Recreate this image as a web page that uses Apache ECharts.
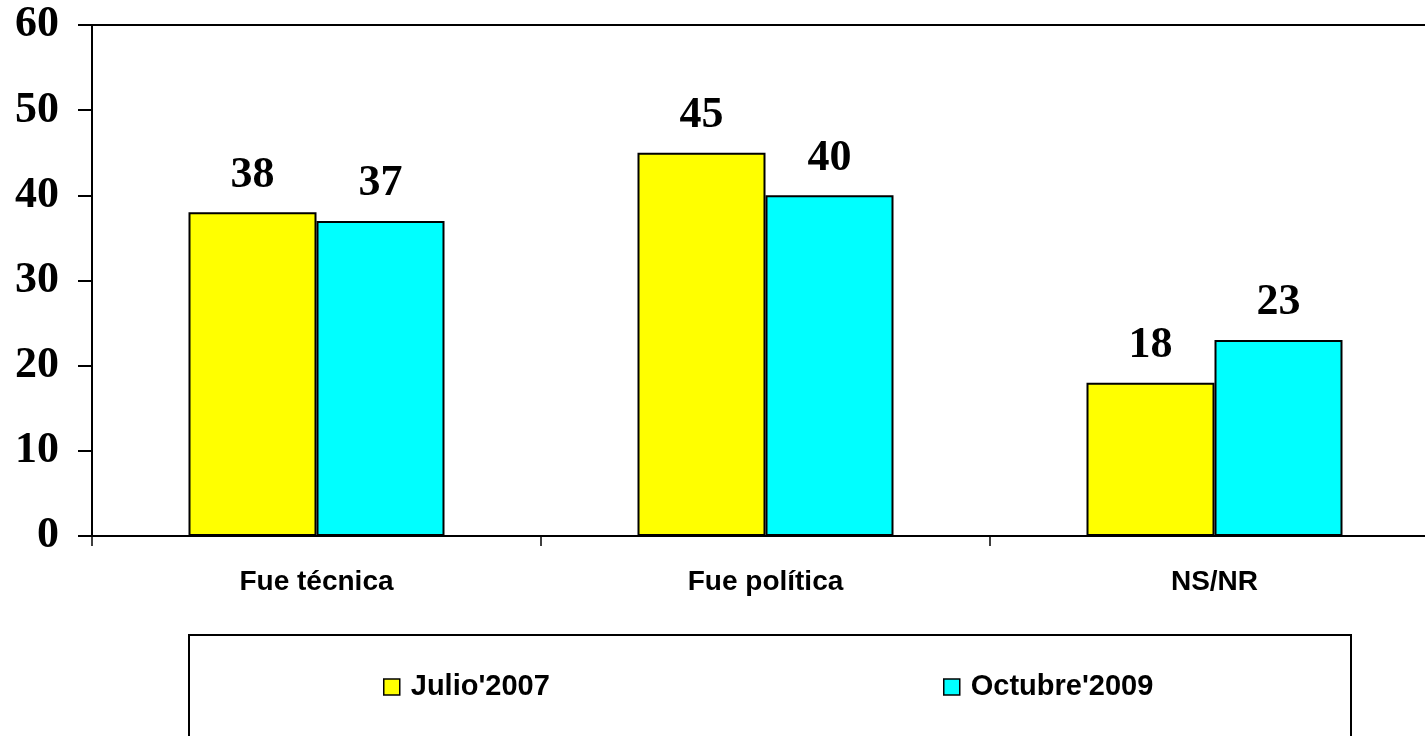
<!DOCTYPE html>
<html>
<head>
<meta charset="utf-8">
<script src="https://cdn.jsdelivr.net/npm/echarts@6/dist/echarts.min.js"></script>
<style>
html,body{margin:0;padding:0;background:#fff;}
#chart{width:1425px;height:736px;}
</style>
</head>
<body>
<div id="chart"></div>
<script>
const categories = ['Fue técnica', 'Fue política', 'NS/NR'];
const seriesNames = ["Julio'2007", "Octubre'2009"];
const julio2007 = [38, 45, 18];
const octubre2009 = [37, 40, 23];
const yTicks = { min: 0, max: 60, interval: 10 };

const SANS = "'Liberation Sans', Arial, sans-serif";
const SERIF = "'Liberation Serif', 'Times New Roman', serif";

const chart = echarts.init(document.getElementById('chart'));
const labelStyle = {
  show: true, position: 'top', distance: 15,
  fontFamily: SERIF, fontWeight: 'bold', fontSize: 44, color: '#000'
};
const legendText = { fontFamily: SANS, fontWeight: 'bold', fontSize: 29, color: '#000', lineHeight: 30, padding: [0, 0, 0, 6] };
chart.setOption({
  backgroundColor: '#fff',
  animation: false,
  grid: { left: 92, top: 25, right: -14, bottom: 200, containLabel: false, outerBoundsMode: 'none' },
  graphic: [{
    type: 'rect', left: 188, top: 634, z: 0,
    shape: { width: 1162, height: 130 },
    style: { fill: '#fff', stroke: '#000', lineWidth: 2 }
  }],
  legend: [
    {
      data: [seriesNames[0]], left: 383, top: 672, padding: 0,
      itemWidth: 16, itemHeight: 16, icon: 'rect',
      itemStyle: { borderColor: '#000', borderWidth: 1.5 },
      textStyle: legendText
    },
    {
      data: [seriesNames[1]], left: 943, top: 672, padding: 0,
      itemWidth: 16, itemHeight: 16, icon: 'rect',
      itemStyle: { borderColor: '#000', borderWidth: 1.5 },
      textStyle: legendText
    }
  ],
  xAxis: [
    {
      type: 'category', data: categories, position: 'bottom',
      axisLine: { lineStyle: { color: '#000', width: 2 } },
      axisTick: { show: true, length: 10, lineStyle: { color: '#000', width: 1.5 } },
      axisLabel: { margin: 32, fontFamily: SANS, fontWeight: 'bold', fontSize: 28, lineHeight: 28, color: '#000' },
      splitLine: { show: false }
    },
    {
      type: 'category', data: categories, position: 'top',
      axisLine: { show: true, lineStyle: { color: '#000', width: 2 } },
      axisTick: { show: false }, axisLabel: { show: false }, splitLine: { show: false }
    }
  ],
  yAxis: {
    type: 'value', min: yTicks.min, max: yTicks.max, interval: yTicks.interval,
    axisLine: { show: true, lineStyle: { color: '#000', width: 2 } },
    axisTick: { show: true, length: 14, lineStyle: { color: '#000', width: 2 } },
    axisLabel: { margin: 33, fontFamily: SERIF, fontWeight: 'bold', fontSize: 44, color: '#000' },
    splitLine: { show: false }
  },
  series: [
    {
      name: seriesNames[0], type: 'bar', data: julio2007,
      barWidth: 128, barGap: '0%',
      itemStyle: { color: '#FFFF00', borderColor: '#000', borderWidth: 2 },
      label: labelStyle
    },
    {
      name: seriesNames[1], type: 'bar', data: octubre2009,
      barWidth: 128, barGap: '0%',
      itemStyle: { color: '#00FFFF', borderColor: '#000', borderWidth: 2 },
      label: labelStyle
    }
  ]
});
</script>
</body>
</html>
